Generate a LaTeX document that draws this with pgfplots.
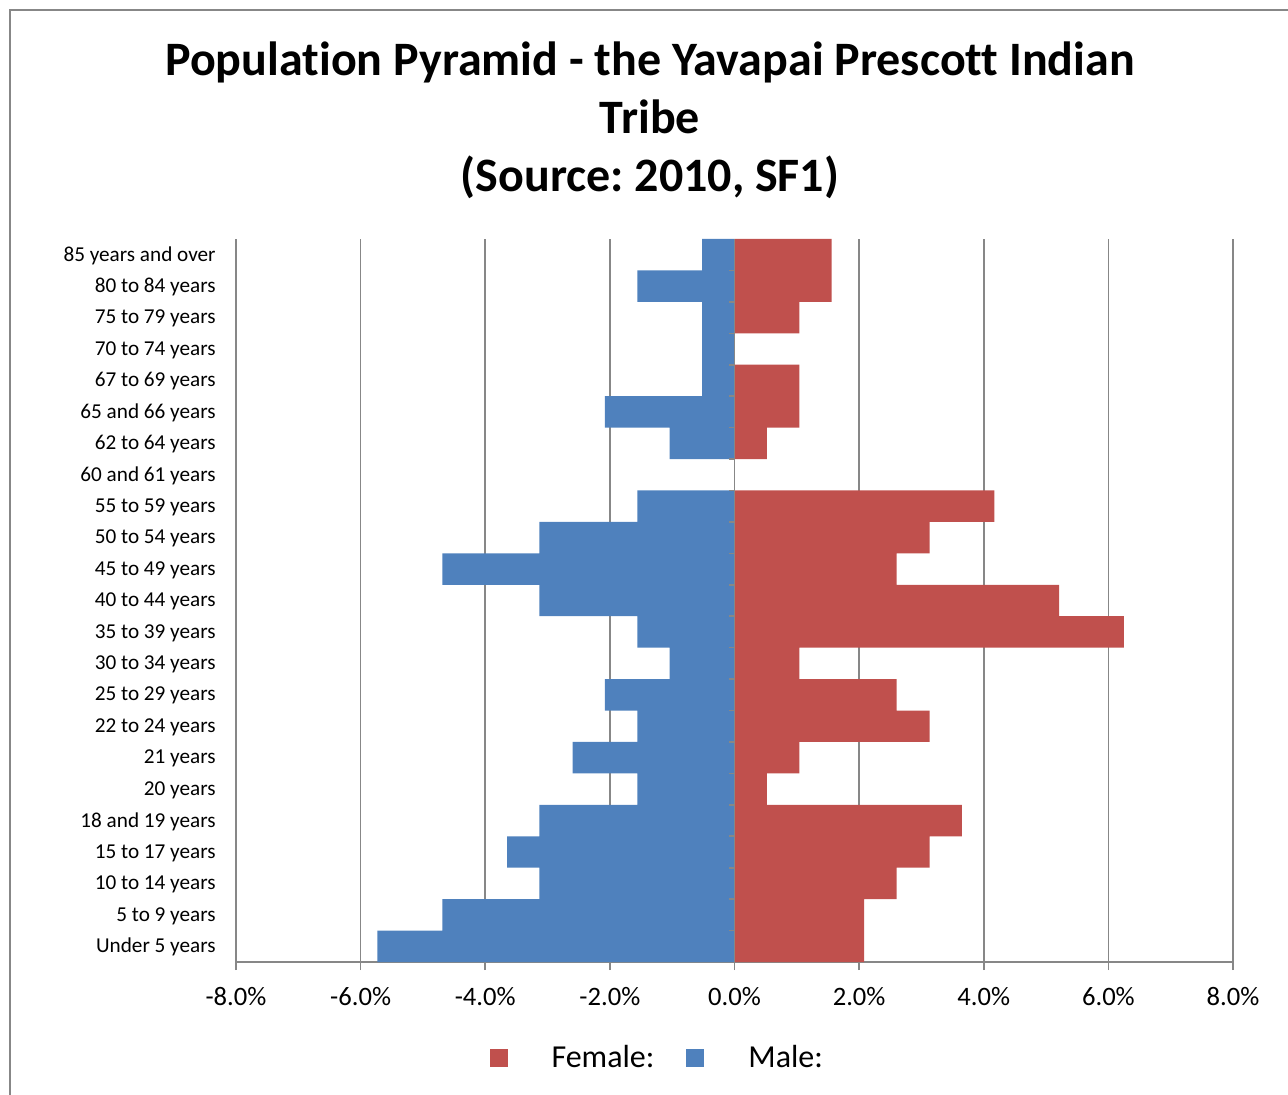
\documentclass[border=0pt]{standalone}
\usepackage{pgfplots}
\pgfplotsset{compat=1.18}
\usepackage{fontspec}
\setmainfont{Carlito}[Ligatures=NoCommon]
\definecolor{fem}{HTML}{C0504D}
\definecolor{mal}{HTML}{4F81BD}
\definecolor{gridc}{HTML}{878787}
\frenchspacing
\begin{document}
\begin{tikzpicture}
\useasboundingbox (0pt,0pt) rectangle (644pt,-547.5pt);
\draw[gridc, line width=1pt] (5pt,-547.5pt) -- (5pt,-5pt) -- (644pt,-5pt);
\node[font=\bfseries\fontsize{24}{29}\selectfont, align=center] at (325pt,-60pt)
  {Population Pyramid - the Yavapai Prescott Indian\\Tribe\\(Source: 2010, SF1)};
\begin{axis}[
  at={(118pt,-481pt)}, anchor=south west,
  scale only axis, width=498.5pt, height=361.5pt,
  xmin=-8, xmax=8, ymin=-0.5, ymax=22.5,
  axis x line*=bottom, axis y line*=left,
  y axis line style={draw=none},
  x axis line style={gridc, line width=0.8pt},
  xtick={-8,-6,...,8},
  xticklabels={-8.0\%,-6.0\%,-4.0\%,-2.0\%,0.0\%,2.0\%,4.0\%,6.0\%,8.0\%},
  xtick style={gridc, line width=0.8pt},
  xtick align=outside, major tick length=4pt,
  xticklabel style={font=\fontsize{13.3}{16}\selectfont, yshift=-5pt},
  xmajorgrids, major grid style={gridc, line width=0.8pt},
  ytick={0,...,22},
  yticklabels={Under 5 years, 5 to 9 years, 10 to 14 years, 15 to 17 years, 18 and 19 years, 20 years, 21 years, 22 to 24 years, 25 to 29 years, 30 to 34 years, 35 to 39 years, 40 to 44 years, 45 to 49 years, 50 to 54 years, 55 to 59 years, 60 and 61 years, 62 to 64 years, 65 and 66 years, 67 to 69 years, 70 to 74 years, 75 to 79 years, 80 to 84 years, 85 years and over},
  ytick style={draw=none},
  yticklabel style={font=\fontsize{10.6}{12}\selectfont, anchor=east, inner sep=0pt, xshift=-10pt, yshift=-0.5pt},
  legend style={draw=none, at={(0.4235,-0.133)}, anchor=center, legend columns=2,
    font=\fontsize{16}{18}\selectfont,
    /tikz/every odd column/.append style={column sep=20pt},
    /tikz/every even column/.append style={column sep=14pt}},
  legend image code/.code={\fill (0pt,-4.5pt) rectangle (9pt,4.5pt);},
]
\addplot[xbar, bar width=1, bar shift=0pt, fill=fem, draw=none] coordinates {
(2.08,0) (2.08,1) (2.60,2) (3.13,3) (3.65,4) (0.52,5) (1.04,6) (3.13,7) (2.60,8) (1.04,9) (6.25,10) (5.21,11) (2.60,12) (3.13,13) (4.17,14) (0,15) (0.52,16) (1.04,17) (1.04,18) (0,19) (1.04,20) (1.56,21) (1.56,22)};
\addlegendentry{Female:}
\addplot[xbar, bar width=1, bar shift=0pt, fill=mal, draw=none] coordinates {
(-5.73,0) (-4.69,1) (-3.13,2) (-3.65,3) (-3.13,4) (-1.56,5) (-2.60,6) (-1.56,7) (-2.08,8) (-1.04,9) (-1.56,10) (-3.13,11) (-4.69,12) (-3.13,13) (-1.56,14) (0,15) (-1.04,16) (-2.08,17) (-0.52,18) (-0.52,19) (-0.52,20) (-1.56,21) (-0.52,22)};
\addlegendentry{Male:}
\draw[gridc, line width=0.8pt] (axis cs:0,-0.5) -- (axis cs:0,22.5);
\pgfplotsinvokeforeach{0.5,1.5,...,21.5}{\draw[gridc, line width=0.8pt] (axis cs:0,#1) -- ++(-3pt,0pt);}
\end{axis}
\end{tikzpicture}
\end{document}
